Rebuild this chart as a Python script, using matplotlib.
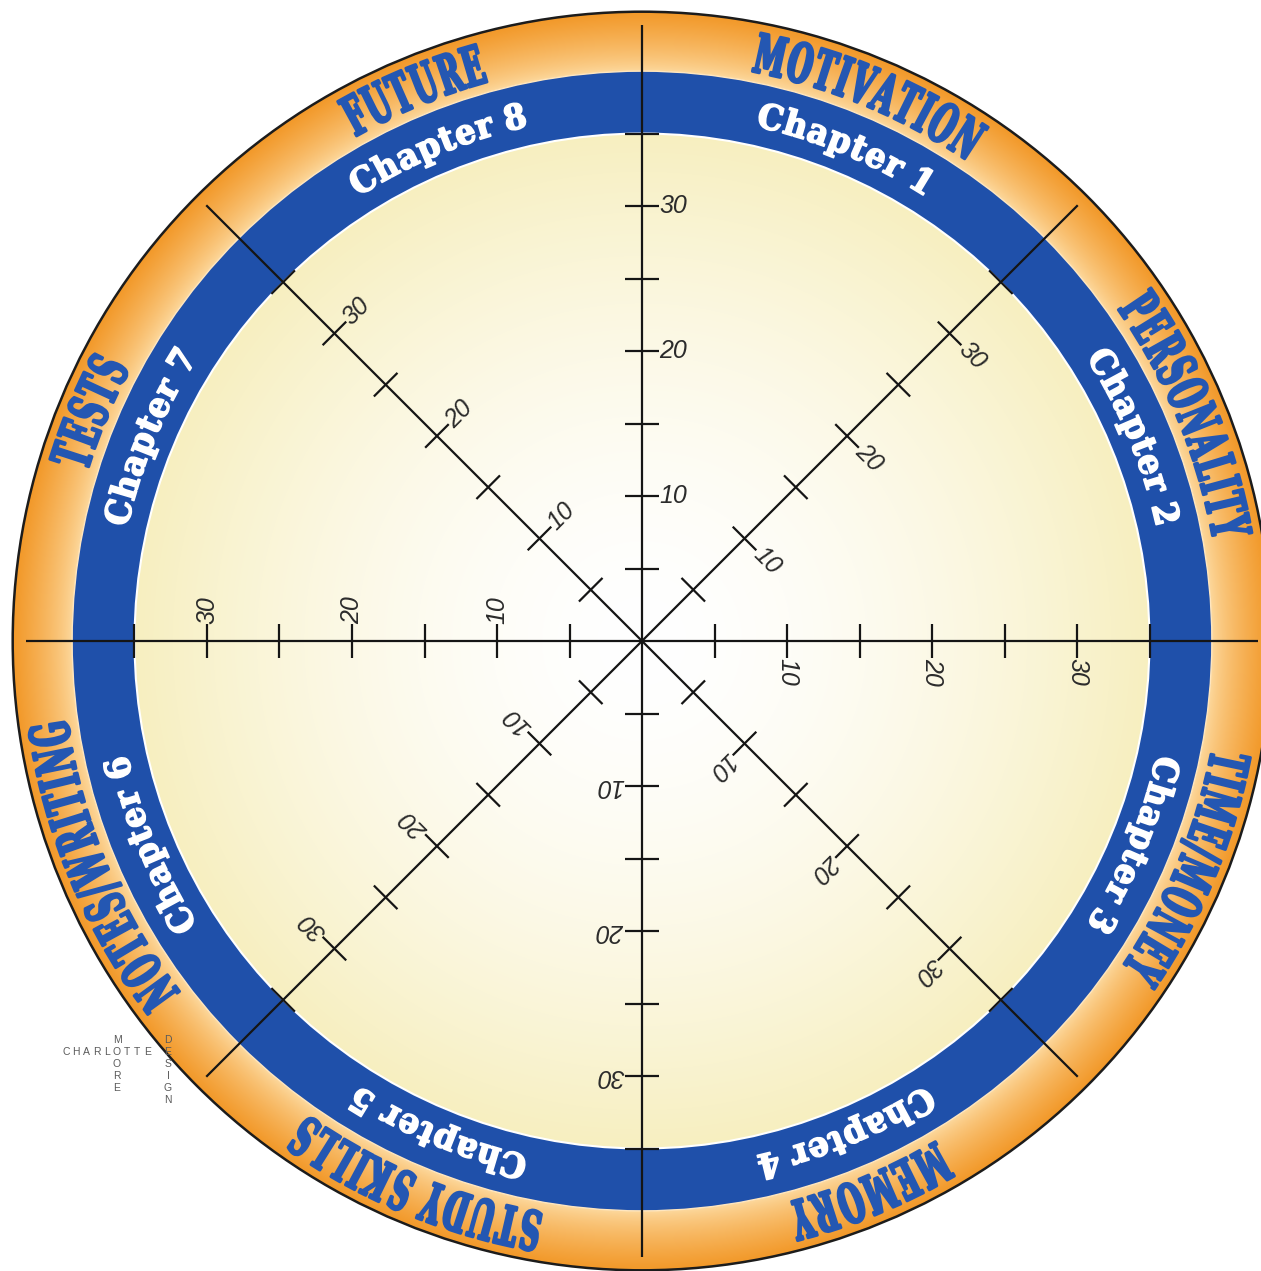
import numpy as np
import matplotlib
matplotlib.use("Agg")
import matplotlib.pyplot as plt
from matplotlib.patches import Circle, Wedge
from matplotlib.patheffects import AbstractPathEffect
from matplotlib.transforms import Affine2D
from matplotlib.textpath import TextToPath
from matplotlib.font_manager import FontProperties
from matplotlib.path import Path

# ---------------- data ----------------
categories = ["MOTIVATION", "PERSONALITY", "TIME/MONEY", "MEMORY",
              "STUDY SKILLS", "NOTES/WRITING", "TESTS", "FUTURE"]
chapters = ["Chapter 1", "Chapter 2", "Chapter 3", "Chapter 4",
            "Chapter 5", "Chapter 6", "Chapter 7", "Chapter 8"]
sector_centers = [67.5, 22.5, -22.5, -67.5, -112.5, -157.5, 157.5, 112.5]
ray_angles = [0, 45, 90, 135, 180, 225, 270, 315]
tick_values = [5, 10, 15, 20, 25, 30, 35]
label_values = [10, 20, 30]
tick_labels = ["10", "20", "30"]
logo_row = "CHARLOTTE"
logo_col1 = "MOORE"
logo_col2 = "DESIGN"

# ---------------- layout ----------------
W, H, DPI = 1261, 1271, 100
PX = 14.5          # pixels per scale unit
CX, CY = 642, 641  # centre in pixels (from top-left)
R_IN, R_BLUE, R_OUT, R_LINE = 35.0, 39.3, 43.4, 42.5
TICK = 1.15

BLUE = "#1f50aa"
TXT_BLUE = "#2457b2"

fig = plt.figure(figsize=(W / DPI, H / DPI), dpi=DPI)
ax = fig.add_axes([0, 0, 1, 1])
x0, x1 = -CX / PX, (W - CX) / PX
y0, y1 = -(H - CY) / PX, CY / PX

# ---------------- background gradients ----------------
xs = x0 + (np.arange(W) + 0.5) / PX
ys = y1 - (np.arange(H) + 0.5) / PX
X, Y = np.meshgrid(xs, ys)
R = np.hypot(X, Y)
white = np.array([1.0, 1.0, 1.0])
cream = np.array([247, 239, 192]) / 255
t = (np.clip(R / R_IN, 0, 1) ** 1.7)[..., None]
inner = white * (1 - t) + cream * t
o_in = np.array([253, 218, 160]) / 255
o_out = np.array([242, 152, 40]) / 255
s = (np.clip((R - R_BLUE) / (R_OUT - R_BLUE), 0, 1) ** 0.75)[..., None]
orange = o_in * (1 - s) + o_out * s
img = np.where((R <= R_IN + 1)[..., None], inner,
               np.where((R <= R_OUT)[..., None], orange, 1.0))
ax.imshow(img, extent=(x0, x1, y0, y1), origin="upper",
          interpolation="nearest", aspect="auto", zorder=0)

ax.add_patch(Wedge((0, 0), R_BLUE, 0, 360, width=R_BLUE - R_IN,
                   facecolor=BLUE, edgecolor="none", zorder=1))
ax.add_patch(Circle((0, 0), R_IN, fill=False, edgecolor="#ffffff", lw=1.5, zorder=2))
ax.add_patch(Circle((0, 0), R_BLUE, fill=False, edgecolor="#ffe6bf", lw=1.0, zorder=2))
ax.add_patch(Circle((0, 0), R_OUT, fill=False, edgecolor="#1c1c1c", lw=1.8, zorder=2))

# ---------------- axes lines, ticks, labels ----------------
for a in ray_angles[:4]:
    th = np.deg2rad(a)
    d = np.array([np.cos(th), np.sin(th)])
    ax.plot([-R_LINE * d[0], R_LINE * d[0]], [-R_LINE * d[1], R_LINE * d[1]],
            color="#151515", lw=1.6, solid_capstyle="butt", zorder=3)

fp_lab = FontProperties(family="Liberation Sans", style="italic", size=18)
for a in ray_angles:
    th = np.deg2rad(a)
    d = np.array([np.cos(th), np.sin(th)])
    n = np.array([-np.sin(th), np.cos(th)])
    for v in tick_values:
        p = v * d
        ax.plot([p[0] - TICK * n[0], p[0] + TICK * n[0]],
                [p[1] - TICK * n[1], p[1] + TICK * n[1]],
                color="#151515", lw=1.6, solid_capstyle="butt", zorder=3)
    for v, lab in zip(label_values, tick_labels):
        p = v * d - (TICK + 0.05) * n
        ax.text(p[0], p[1], lab, rotation=a - 90, rotation_mode="anchor",
                ha="left", va="center", fontproperties=fp_lab,
                color="#2b2b2b", zorder=4)


# ---------------- curved ring text ----------------
class Squeeze(AbstractPathEffect):
    """Compress glyphs horizontally (in text space) and embolden them."""

    def __init__(self, sx=1.0, lw=0.0, color=None):
        super().__init__((0.0, 0.0))
        self.sx = sx
        self.lw = lw
        self.color = color

    def draw_path(self, renderer, gc, tpath, affine, rgbFace=None):
        v = tpath.vertices
        if tpath.codes is not None and len(v):
            m = tpath.codes != Path.CLOSEPOLY
            v = v[m] if m.any() else v
        cx = 0.5 * (v[:, 0].min() + v[:, 0].max()) if len(v) else 0.0
        tr = Affine2D().translate(-cx, 0).scale(self.sx, 1).translate(cx, 0) + affine
        if self.lw > 0:
            gc0 = renderer.new_gc()
            gc0.copy_properties(gc)
            gc0.set_linewidth(self.lw)
            gc0.set_foreground(self.color)
            gc0.set_joinstyle("round")
            renderer.draw_path(gc0, tpath, tr, rgbFace)
            gc0.restore()
        renderer.draw_path(gc, tpath, tr, rgbFace)


ttp = TextToPath()


def glyph_px(ch, fp):
    if ch == " ":
        return 0.30 * fp.get_size_in_points() * DPI / 72
    w, h, d = ttp.get_text_width_height_descent(ch, fp, ismath=False)
    return w * DPI / 72


def arc_text(s, theta_c, r_base, fp, color, sx, track_px, lw):
    advs = [(glyph_px(c, fp) * sx + track_px) / PX for c in s]
    L = sum(advs) - track_px / PX
    th0 = np.deg2rad(theta_c) + L / (2 * r_base)
    cum = 0.0
    for c, a in zip(s, advs):
        aa = a - track_px / PX
        th = th0 - (cum + aa / 2) / r_base
        cum += a
        if c == " ":
            continue
        ax.text(r_base * np.cos(th), r_base * np.sin(th), c,
                rotation=np.rad2deg(th) - 90, rotation_mode="anchor",
                ha="center", va="baseline", fontproperties=fp, color=color,
                path_effects=[Squeeze(sx, lw, color)], zorder=6)


fp_cat = FontProperties(family="DejaVu Serif", weight="bold", size=39)
fp_chap = FontProperties(family="DejaVu Serif", weight="bold", size=25)
for cat, chap, ang in zip(categories, chapters, sector_centers):
    arc_text(cat, ang, 40.0, fp_cat, TXT_BLUE, 0.52, 2.0, 2.0)
    arc_text(chap, ang, 36.35, fp_chap, "white", 0.93, 1.0, 1.2)

# ---------------- logo ----------------
def px2d(px, py):
    return (px - CX) / PX, (CY - py) / PX


fp_logo = FontProperties(family="Liberation Sans", size=7.5)
LOGO_Y = 1052
step = 10.2
for i, c in enumerate(logo_row):
    x, y = px2d(66 + i * step, LOGO_Y)
    ax.text(x, y, c, ha="center", va="center", fontproperties=fp_logo,
            color="#5a5a5a", zorder=6)
ox = 66 + logo_row.index("O") * step
for j, c in enumerate(logo_col1):
    if j == 1:
        continue
    x, y = px2d(ox, LOGO_Y + (j - 1) * 12)
    ax.text(x, y, c, ha="center", va="center", fontproperties=fp_logo,
            color="#5a5a5a", zorder=6)
for j, c in enumerate(logo_col2):
    x, y = px2d(168, LOGO_Y - 12 + j * 12)
    ax.text(x, y, c, ha="center", va="center", fontproperties=fp_logo,
            color="#5a5a5a", zorder=6)

ax.set_xlim(x0, x1)
ax.set_ylim(y0, y1)
ax.axis("off")
fig.savefig("out.png", dpi=DPI, facecolor="white")
